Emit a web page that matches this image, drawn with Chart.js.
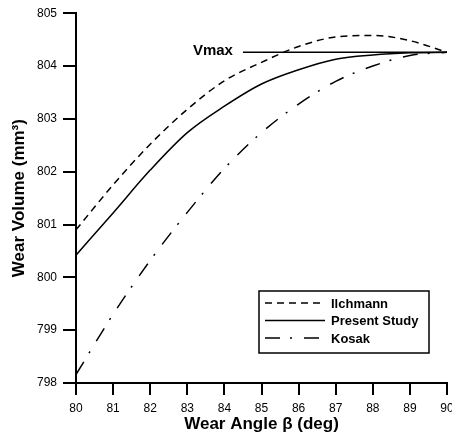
<!DOCTYPE html>
<html>
<head>
<meta charset="utf-8">
<script src="https://cdn.jsdelivr.net/npm/chart.js@4.4.1/dist/chart.umd.min.js"></script>
<style>
  html, body { margin: 0; padding: 0; background: #fff; }
  #wrap { width: 452px; height: 438px; }
</style>
</head>
<body>
<div id="wrap"><canvas id="mycanvas"></canvas></div>
<script>
// wear angle (deg)
var angles = [80, 81, 82, 83, 84, 85, 86, 87, 88, 89, 90];
var ilchmann = [800.90, 801.75, 802.52, 803.18, 803.72, 804.07, 804.37, 804.55, 804.58, 804.48, 804.26];
var presentStudy = [800.42, 801.22, 802.03, 802.74, 803.24, 803.66, 803.93, 804.13, 804.21, 804.25, 804.26];
var kosak = [798.16, 799.30, 800.32, 801.23, 802.06, 802.74, 803.28, 803.71, 804.00, 804.20, 804.26];
var vmaxX = [84.5, 90];
var vmaxY = [804.26, 804.26];
var xTicks = [80, 81, 82, 83, 84, 85, 86, 87, 88, 89, 90];
var yTicks = [798, 799, 800, 801, 802, 803, 804, 805];

function pts(xs, ys) {
  return xs.map(function (x, i) { return { x: x, y: ys[i] }; });
}

var FONT = "'Liberation Sans', Arial, sans-serif";

// legend box + Vmax label
var extras = {
  id: 'extras',
  afterDraw: function (chart) {
    var c = chart.ctx;
    var ca = chart.chartArea;
    var xs = chart.scales.x, ys = chart.scales.y;
    c.save();
    c.font = 'bold 15px ' + FONT;
    c.fillStyle = '#000';
    c.textAlign = 'right';
    c.textBaseline = 'middle';
    c.fillText('Vmax', xs.getPixelForValue(vmaxX[0]) - 10, ys.getPixelForValue(vmaxY[0]) - 1);

    var left = ca.right - 188, top = ca.bottom - 92, w = 170, h = 62;
    c.lineWidth = 1.5;
    c.strokeStyle = '#000';
    c.strokeRect(left, top, w, h);
    c.font = 'bold 13px ' + FONT;
    c.textAlign = 'left';
    var items = chart.data.datasets.filter(function (d) { return d.label; });
    items.forEach(function (d, i) {
      var y = top + 12 + i * 17.5;
      c.beginPath();
      c.setLineDash(d.borderDash || []);
      c.lineWidth = 1.5;
      c.moveTo(left + 6, y);
      c.lineTo(left + 66, y);
      c.stroke();
      c.setLineDash([]);
      c.fillText(d.label, left + 72, y + 1);
    });
    c.restore();
  }
};

var cfg = {
  type: 'line',
  data: {
    datasets: [
      { label: 'Ilchmann', data: pts(angles, ilchmann), borderDash: [7, 5] },
      { label: 'Present Study', data: pts(angles, presentStudy), borderDash: [] },
      { label: 'Kosak', data: pts(angles, kosak), borderDash: [15, 10, 2, 12] },
      { label: '', data: pts(vmaxX, vmaxY), borderDash: [], tension: 0 }
    ]
  },
  options: {
    responsive: true,
    maintainAspectRatio: false,
    animation: false,
    layout: { padding: { top: 13, right: 5, left: 0, bottom: 0 } },
    elements: {
      line: { borderColor: '#000', borderWidth: 1.5, tension: 0.4, cubicInterpolationMode: 'monotone', fill: false },
      point: { radius: 0 }
    },
    plugins: { legend: { display: false }, tooltip: { enabled: false } },
    scales: {
      x: {
        type: 'linear', min: 80, max: 90,
        afterBuildTicks: function (s) { s.ticks = xTicks.map(function (v) { return { value: v }; }); },
        afterFit: function (s) { s.height = 55; s.paddingLeft = 0; s.paddingRight = 0; },
        border: { display: true, color: '#000', width: 2 },
        grid: { drawOnChartArea: false, color: '#000', lineWidth: 2, tickLength: 12 },
        ticks: { color: '#000', font: { family: FONT, size: 12 }, padding: 6, maxRotation: 0 },
        title: { display: true, text: 'Wear Angle β (deg)', color: '#000',
                 font: { family: FONT, size: 17, weight: 'bold' }, padding: { top: 0, bottom: 3 } }
      },
      y: {
        type: 'linear', min: 798, max: 805,
        afterBuildTicks: function (s) { s.ticks = yTicks.map(function (v) { return { value: v }; }); },
        afterFit: function (s) { s.width = 76; },
        border: { display: true, color: '#000', width: 2 },
        grid: { drawOnChartArea: false, color: '#000', lineWidth: 2, tickLength: 13 },
        ticks: { color: '#000', font: { family: FONT, size: 12 }, padding: 6 },
        title: { display: true, text: 'Wear Volume (mm³)', color: '#000',
                 font: { family: FONT, size: 17, weight: 'bold' }, padding: { top: 9, bottom: 0 } }
      }
    }
  },
  plugins: [extras]
};

var chart = new Chart(document.getElementById('mycanvas').getContext('2d'), cfg);
</script>
</body>
</html>
